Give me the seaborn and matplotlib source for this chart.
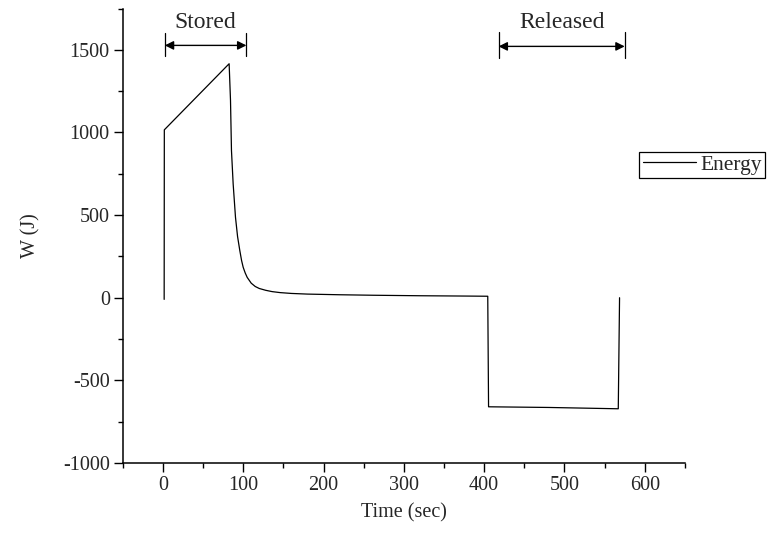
import matplotlib
matplotlib.use("Agg")
import matplotlib.pyplot as plt
import seaborn as sns
import pandas as pd

# Data
time_sec = [1.6, 1.8, 82.5, 84.2, 85.4, 87.5, 90.4, 93, 95.8, 98, 100, 102.5, 105, 110, 115, 120,
            128, 136, 146, 160, 180, 220, 262, 320, 380, 404.5, 405.5, 480, 567, 568.6]
energy_j = [-10, 1016, 1416, 1194, 891, 689, 487, 370, 285, 225, 184, 150, 123, 88, 68, 56,
            45, 37, 31, 26, 22, 18, 15, 12, 10, 9, -660, -664, -672, 0]
series_name = "Energy"
x_ticks = [0, 100, 200, 300, 400, 500, 600]
y_ticks = [-1000, -500, 0, 500, 1000, 1500]
stored_span = (2.4, 104)
released_span = (418, 575)

df = pd.DataFrame({"Time (sec)": time_sec, "W (J)": energy_j, "series": series_name})

sns.set_style("ticks")
plt.rcParams["font.family"] = ["Liberation Serif", "DejaVu Serif"]

fig = plt.figure(figsize=(7.67, 5.34), dpi=100)
ax = fig.add_axes([0.160, 0.133, 0.733, 0.851])

sns.lineplot(data=df, x="Time (sec)", y="W (J)", hue="series", palette=["black"],
             sort=False, estimator=None, lw=0.9, ax=ax)

ax.set_xlim(-50, 650)
ax.set_ylim(-1000, 1750)
ax.set_xticks(x_ticks)
ax.set_yticks(y_ticks)
ax.set_xticks(range(-50, 651, 50), minor=True)
ax.set_yticks(range(-1000, 1751, 250), minor=True)
ax.set_xticklabels([str(v) for v in x_ticks])
ax.set_yticklabels([str(v) for v in y_ticks])
ax.tick_params(which="major", direction="out", length=6.3, width=1.0, labelsize=14.5, pad=3, color="black")
ax.tick_params(which="minor", direction="out", length=3.6, width=1.0, color="black")
for s in ["top", "right"]:
    ax.spines[s].set_visible(False)
for s in ["left", "bottom"]:
    ax.spines[s].set_linewidth(1.1)
    ax.spines[s].set_color("black")

ax.set_xlabel("Time (sec)", fontsize=14.5, labelpad=6)
ax.set_ylabel("W (J)", fontsize=14.5, labelpad=16)

# Annotations
def span_marker(x0, x1, y_arrow, y_lo, y_hi, text, y_text):
    ax.plot([x0, x0], [y_lo, y_hi], color="black", lw=0.9, clip_on=False)
    ax.plot([x1, x1], [y_lo, y_hi], color="black", lw=0.9, clip_on=False)
    ax.annotate("", xy=(x1, y_arrow), xytext=(x0, y_arrow),
                arrowprops=dict(arrowstyle="<|-|>", color="black", lw=1.0,
                                mutation_scale=13, shrinkA=0, shrinkB=0))
    ax.text((x0 + x1) / 2, y_text, text, ha="center", va="center", fontsize=17)

span_marker(stored_span[0], stored_span[1], 1527, 1460, 1605, "Stored", 1665)
span_marker(released_span[0], released_span[1], 1521, 1450, 1610, "Released", 1665)

leg = ax.legend(loc="upper right", bbox_to_anchor=(0.998, 0.716), bbox_transform=fig.transFigure,
                frameon=True, fancybox=False, shadow=False, fontsize=15.5,
                handlelength=2.5, handletextpad=0.2, borderpad=0.15, borderaxespad=0)
leg.get_frame().set_edgecolor("black")
leg.get_frame().set_linewidth(0.9)
leg.get_frame().set_alpha(1)
for line in leg.get_lines():
    line.set_linewidth(0.9)

fig.savefig("out.png", dpi=100)
